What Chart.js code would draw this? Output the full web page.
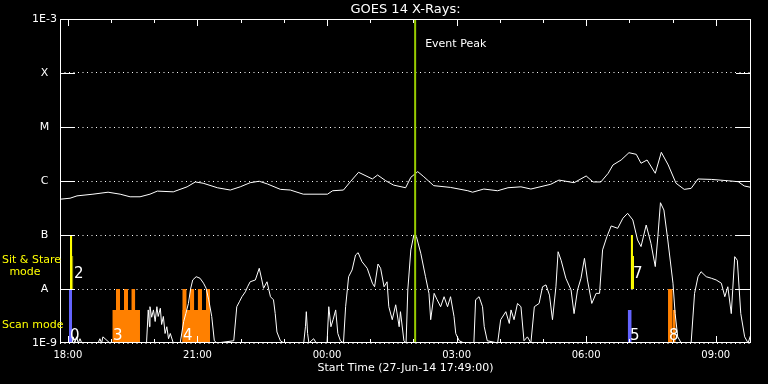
<!DOCTYPE html>
<html>
<head>
<meta charset="utf-8">
<title>GOES 14 X-Rays</title>
<script src="https://cdn.jsdelivr.net/npm/chart.js@4"></script>
<style>
  html, body { margin: 0; padding: 0; background: #000; }
  #wrap { width: 768px; height: 384px; }
</style>
</head>
<body>
<div id="wrap"><canvas id="goesChart" width="768" height="384"></canvas></div>
<script>
/* ─── Time axis: hours after 18:00 UT, 27-Jun-14 (window 17:49 → 09:49) ─── */
var xMin = -11 / 60;
var xMax = 16 - 11 / 60;
var xTickHours = [0, 1, 2, 3, 4, 5, 6, 7, 8, 9, 10, 11, 12, 13, 14, 15];
var xLabelHours = [0, 3, 6, 9, 12, 15];
var xTickLabels = ["18:00", "21:00", "00:00", "03:00", "06:00", "09:00"];

/* ─── Flux axis (W/m^2) ─── */
var yTickValues = [1e-9, 1e-8, 1e-7, 1e-6, 1e-5, 1e-4, 1e-3];
var yTickLabels = ["1E-9", "A", "B", "C", "M", "X", "1E-3"];

/* ─── Long channel (1-8 A) ─── */
var longTime = [-0.18, 0.05, 0.21, 0.58, 0.93, 1.21, 1.44, 1.67, 1.90, 2.07, 2.44, 2.76, 2.95, 3.13, 3.46, 3.76,
  3.99, 4.22, 4.43, 4.62, 4.92, 5.15, 5.45, 6.01, 6.13, 6.38, 6.54, 6.73, 7.05, 7.17, 7.36, 7.54, 7.82, 7.94,
  8.10, 8.24, 8.47, 8.86, 9.26, 9.37, 9.63, 9.95, 10.19, 10.49, 10.72, 11.18, 11.37, 11.72, 12.00, 12.16,
  12.34, 12.51, 12.62, 12.81, 12.99, 13.16, 13.27, 13.41, 13.60, 13.74, 13.90, 14.08, 14.27, 14.43, 14.59,
  14.90, 15.29, 15.52, 15.66, 15.82];
var longFlux = [4.6e-7, 4.8e-7, 5.3e-7, 5.7e-7, 6.2e-7, 5.7e-7, 5.1e-7, 5.1e-7, 5.7e-7, 6.5e-7, 6.3e-7, 7.8e-7,
  9.6e-7, 9.1e-7, 7.5e-7, 6.8e-7, 7.8e-7, 9.3e-7, 9.9e-7, 8.8e-7, 7.0e-7, 6.8e-7, 5.7e-7, 5.7e-7, 6.6e-7,
  6.8e-7, 9.7e-7, 1.45e-6, 1.09e-6, 1.29e-6, 1.01e-6, 8.4e-7, 7.5e-7, 1.17e-6, 1.49e-6, 1.20e-6, 8.2e-7,
  7.6e-7, 6.6e-7, 6.2e-7, 7.1e-7, 6.6e-7, 7.5e-7, 7.8e-7, 7.1e-7, 8.7e-7, 1.04e-6, 9.3e-7, 1.24e-6, 9.6e-7,
  9.6e-7, 1.39e-6, 1.98e-6, 2.45e-6, 3.34e-6, 3.12e-6, 2.13e-6, 2.45e-6, 1.39e-6, 3.40e-6, 1.98e-6, 9.1e-7,
  7.0e-7, 7.3e-7, 1.09e-6, 1.07e-6, 1.01e-6, 9.7e-7, 8.1e-7, 7.6e-7];

/* ─── Short channel (0.5-4 A) ─── */
var shortTime = [-0.18, 0.10, 0.12, 0.16, 0.20, 0.24, 0.28, 0.32, 0.70, 0.74, 0.78, 0.81, 0.86, 0.97, 1.82,
  1.86, 1.89, 1.90, 1.94, 1.98, 2.02, 2.06, 2.09, 2.14, 2.17, 2.21, 2.25, 2.29, 2.33, 2.37, 2.44, 2.60, 2.68,
  2.73, 2.79, 2.84, 2.89, 2.97, 3.06, 3.14, 3.20, 3.26, 3.33, 3.39, 3.45, 3.84, 3.91, 3.97, 4.03, 4.11, 4.16,
  4.22, 4.34, 4.43, 4.49, 4.53, 4.61, 4.69, 4.76, 4.80, 4.84, 4.92, 5.00, 5.46, 5.50, 5.52, 5.55, 5.58, 5.69,
  5.75, 6.00, 6.04, 6.09, 6.14, 6.20, 6.25, 6.31, 6.38, 6.43, 6.50, 6.58, 6.66, 6.72, 6.81, 6.93, 7.05, 7.10,
  7.18, 7.24, 7.32, 7.39, 7.43, 7.51, 7.59, 7.67, 7.70, 7.78, 7.83, 7.87, 7.94, 8.01, 8.07, 8.17, 8.28, 8.36,
  8.40, 8.48, 8.55, 8.63, 8.71, 8.79, 8.86, 8.94, 8.98, 9.06, 9.17, 9.40, 9.44, 9.52, 9.60, 9.64, 9.71, 9.95,
  10.02, 10.14, 10.22, 10.26, 10.33, 10.41, 10.49, 10.56, 10.64, 10.72, 10.80, 10.91, 10.99, 11.07, 11.15,
  11.22, 11.30, 11.35, 11.42, 11.53, 11.65, 11.72, 11.80, 11.88, 11.96, 12.03, 12.13, 12.23, 12.31, 12.38,
  12.48, 12.58, 12.73, 12.85, 12.96, 13.08, 13.19, 13.27, 13.39, 13.50, 13.60, 13.66, 13.72, 13.80, 13.89,
  14.01, 14.06, 14.12, 14.20, 14.43, 14.51, 14.59, 14.66, 14.78, 14.90, 15.01, 15.13, 15.21, 15.28, 15.36,
  15.44, 15.50, 15.58, 15.67, 15.75, 15.82];
var shortFlux = [1e-9, 1e-9, 1.3e-9, 1e-9, 1.3e-9, 1e-9, 1.2e-9, 1e-9, 1e-9, 1.2e-9, 1e-9, 1.3e-9, 1.2e-9, 1e-9,
  1e-9, 4.1e-9, 2.0e-9, 4.7e-9, 3.0e-9, 4.1e-9, 2.5e-9, 4.7e-9, 3.1e-9, 4.4e-9, 2.2e-9, 3.1e-9, 1.5e-9,
  2.0e-9, 1.2e-9, 1.5e-9, 1e-9, 1e-9, 2.5e-9, 3.5e-9, 5.4e-9, 1.0e-8, 1.47e-8, 1.69e-8, 1.58e-8, 1.28e-8,
  1.03e-8, 6.3e-9, 3.1e-9, 1.1e-9, 1e-9, 1.1e-9, 4.7e-9, 5.8e-9, 7.2e-9, 8.9e-9, 1.10e-8, 1.36e-8, 1.47e-8,
  2.42e-8, 1.47e-8, 1.03e-8, 1.36e-8, 7.2e-9, 6.3e-9, 3.5e-9, 1.6e-9, 1.1e-9, 1e-9, 1e-9, 2.0e-9, 3.8e-9,
  1.5e-9, 1e-9, 1.2e-9, 1e-9, 1e-9, 4.7e-9, 2.0e-9, 2.7e-9, 4.1e-9, 1.5e-9, 1.1e-9, 1e-9, 4.7e-9, 1.69e-8,
  2.25e-8, 4.26e-8, 4.7e-8, 3.2e-8, 2.42e-8, 1.28e-8, 1.10e-8, 2.9e-8, 2.42e-8, 1.10e-8, 1.36e-8, 4.7e-9,
  2.7e-9, 5.1e-9, 2.0e-9, 3.8e-9, 1.1e-9, 1e-9, 9.6e-9, 5.3e-8, 1.0e-7, 9.3e-8, 4.6e-8, 1.69e-8, 8.3e-9,
  2.7e-9, 8.3e-9, 6.3e-9, 4.7e-9, 7.2e-9, 4.7e-9, 7.2e-9, 3.1e-9, 1.5e-9, 1.1e-9, 1e-9, 1e-9, 6.3e-9,
  7.2e-9, 4.7e-9, 2.0e-9, 1.1e-9, 1e-9, 2.7e-9, 3.8e-9, 2.3e-9, 4.1e-9, 2.7e-9, 5.4e-9, 4.7e-9, 1.1e-9,
  1.3e-9, 1e-9, 4.7e-9, 5.4e-9, 1.10e-8, 1.19e-8, 7.7e-9, 2.7e-9, 1.10e-8, 4.9e-8, 3.4e-8, 1.58e-8, 9.6e-9,
  3.5e-9, 9.6e-9, 1.58e-8, 3.7e-8, 1.47e-8, 5.4e-9, 8.3e-9, 8.3e-9, 5.3e-8, 9.3e-8, 1.47e-7, 1.33e-7,
  2.04e-7, 2.52e-7, 1.90e-7, 8.1e-8, 6.1e-8, 1.53e-7, 7.0e-8, 2.6e-8, 9.3e-8, 3.96e-7, 2.9e-7, 8.1e-8,
  1.28e-8, 3.5e-9, 1.3e-9, 1e-9, 1e-9, 8.3e-9, 1.69e-8, 2.09e-8, 1.69e-8, 1.58e-8, 1.47e-8, 1.28e-8,
  7.2e-9, 1.10e-8, 3.5e-9, 3.97e-8, 3.4e-8, 3.5e-9, 1.3e-9, 1e-9, 1.5e-9];

/* ─── IRIS observing blocks (hours, flux band) ─── */
var obsStart = [0.025, 0.048, 0.101, 1.028, 1.113, 1.299, 1.468, 2.648, 2.648, 2.827, 3.005, 3.197, 12.962, 13.031, 13.084, 13.895, 14.004];
var obsEnd   = [0.094, 0.101, 0.124, 1.669, 1.206, 1.391, 1.560, 3.290, 2.750, 2.926, 3.105, 3.290, 13.054, 13.084, 13.107, 14.004, 14.073];
var obsLow   = [1e-9, 1e-8, 1e-8, 1e-9, 1e-9, 1e-9, 1e-9, 1e-9, 1e-9, 1e-9, 1e-9, 1e-9, 1e-9, 1e-8, 1e-8, 1e-9, 1e-9];
var obsHigh  = [1e-8, 1e-7, 4.1e-8, 4.1e-9, 1e-8, 1e-8, 1e-8, 4.1e-9, 1e-8, 1e-8, 1e-8, 1e-8, 4.1e-9, 1e-7, 4.1e-8, 1e-8, 4.1e-9];
var obsMode  = ["scan", "sit", "sit", "raster", "raster", "raster", "raster", "raster", "raster", "raster", "raster", "raster", "scan", "sit", "sit", "raster", "raster"];

var obsLabelText = ["0", "2", "3", "4", "5", "7", "8"];
var obsLabelTime = [0.049, 0.141, 1.044, 2.664, 13.015, 13.084, 13.918];
var obsLabelFlux = [1.14e-9, 1.6e-8, 1.14e-9, 1.14e-9, 1.14e-9, 1.6e-8, 1.14e-9];

var peakTime = 8.04;

var MODE_COLOR = { scan: "#6464ff", sit: "#ffff00", raster: "#ff8000" };
var FONT = "'DejaVu Sans', sans-serif";

function pts(xs, ys) {
  return xs.map(function (x, i) { return { x: x, y: ys[i] }; });
}

var datasets = [];
datasets.push({ data: [{ x: peakTime, y: 1e-9 }, { x: peakTime, y: 1e-3 }], borderColor: "#99cc00", borderWidth: 2, order: 0 });
datasets.push({ data: pts(shortTime, shortFlux), borderColor: "#ffffff", borderWidth: 1, order: 1 });
datasets.push({ data: pts(longTime, longFlux), borderColor: "#ffffff", borderWidth: 1, order: 1 });
obsStart.forEach(function (s, i) {
  datasets.push({
    data: [{ x: s, y: obsHigh[i] }, { x: obsEnd[i], y: obsHigh[i] }],
    borderWidth: 0,
    borderColor: "rgba(0,0,0,0)",
    backgroundColor: MODE_COLOR[obsMode[i]],
    fill: { value: obsLow[i] },
    order: 2
  });
});

/* frame, inner ticks and annotations */
var goesDecor = {
  id: "goesDecor",
  afterDatasetsDraw: function (chart) {
    var ctx = chart.ctx, a = chart.chartArea, xs = chart.scales.x, ys = chart.scales.y;
    ctx.save();
    ctx.strokeStyle = "#ffffff";
    ctx.lineWidth = 1;
    ctx.strokeRect(a.left + 0.5, a.top + 0.5, a.right - a.left - 1, a.bottom - a.top - 1);

    ctx.beginPath();
    yTickValues.forEach(function (v, i) {
      if (i === 0 || i === yTickValues.length - 1) return;
      var py = Math.round(ys.getPixelForValue(v)) + 0.5;
      ctx.moveTo(a.left, py); ctx.lineTo(a.left + 15, py);
      ctx.moveTo(a.right - 15, py); ctx.lineTo(a.right, py);
    });
    xTickHours.forEach(function (h) {
      var px = Math.round(xs.getPixelForValue(h)) + 0.5;
      var len = xLabelHours.indexOf(h) >= 0 ? 6 : 3;
      ctx.moveTo(px, a.bottom - 1); ctx.lineTo(px, a.bottom - 1 - len);
      ctx.moveTo(px, a.top + 1); ctx.lineTo(px, a.top + 1 + len);
    });
    ctx.stroke();

    ctx.fillStyle = "#ffffff";
    ctx.textBaseline = "alphabetic";
    ctx.textAlign = "left";
    ctx.font = "11px " + FONT;
    ctx.fillText("Event Peak", xs.getPixelForValue(peakTime) + 10, a.top + 28);

    ctx.font = "15px " + FONT;
    obsLabelText.forEach(function (t, i) {
      ctx.fillText(t, xs.getPixelForValue(obsLabelTime[i]), ys.getPixelForValue(obsLabelFlux[i]));
    });

    var yA = ys.getPixelForValue(1e-8);
    ctx.fillStyle = "#ffff00";
    ctx.font = "11px " + FONT;
    ctx.fillText("Sit & Stare", 2, yA - 26);
    ctx.textAlign = "center";
    ctx.fillText("mode", 25, yA - 14);
    ctx.textAlign = "left";
    ctx.fillText("Scan mode", 2, a.bottom - 15);
    ctx.restore();
  }
};

Chart.defaults.font.family = FONT;

new Chart(document.getElementById("goesChart"), {
  type: "line",
  data: { datasets: datasets },
  plugins: [goesDecor],
  options: {
    responsive: false,
    animation: false,
    devicePixelRatio: 1,
    layout: { padding: { left: 0, right: 17, top: 0, bottom: 0 } },
    elements: { point: { radius: 0 }, line: { tension: 0 } },
    plugins: {
      legend: { display: false },
      tooltip: { enabled: false },
      title: {
        display: true,
        fullSize: false,
        text: "GOES 14 X-Rays:",
        color: "#ffffff",
        font: { size: 13, weight: "normal", lineHeight: 1.2 },
        padding: { top: 1.7, bottom: 1.7 }
      }
    },
    scales: {
      x: {
        type: "linear",
        min: xMin,
        max: xMax,
        grid: { display: false, drawTicks: false },
        border: { display: false },
        afterBuildTicks: function (s) { s.ticks = xTickHours.map(function (h) { return { value: h }; }); },
        afterFit: function (s) { s.height = 41; },
        ticks: {
          color: "#ffffff",
          font: { size: 10 },
          padding: 6,
          autoSkip: false,
          maxRotation: 0,
          callback: function (v) {
            var i = xLabelHours.indexOf(v);
            return i < 0 ? "" : xTickLabels[i];
          }
        },
        title: {
          display: true,
          text: "Start Time (27-Jun-14 17:49:00)",
          color: "#ffffff",
          font: { size: 11 },
          padding: { top: 0, bottom: 9 }
        }
      },
      y: {
        type: "logarithmic",
        min: 1e-9,
        max: 1e-3,
        grid: { color: "#ffffff", lineWidth: 1, drawTicks: false },
        border: { display: false, dash: [1, 3.5] },
        afterBuildTicks: function (s) { s.ticks = yTickValues.map(function (v) { return { value: v }; }); },
        afterFit: function (s) { s.width = 60; },
        ticks: {
          color: "#ffffff",
          font: { size: 11 },
          padding: 3,
          crossAlign: "center",
          callback: function (v) {
            var i = yTickValues.indexOf(v);
            return i < 0 ? "" : yTickLabels[i];
          }
        }
      }
    }
  }
});
</script>
</body>
</html>
